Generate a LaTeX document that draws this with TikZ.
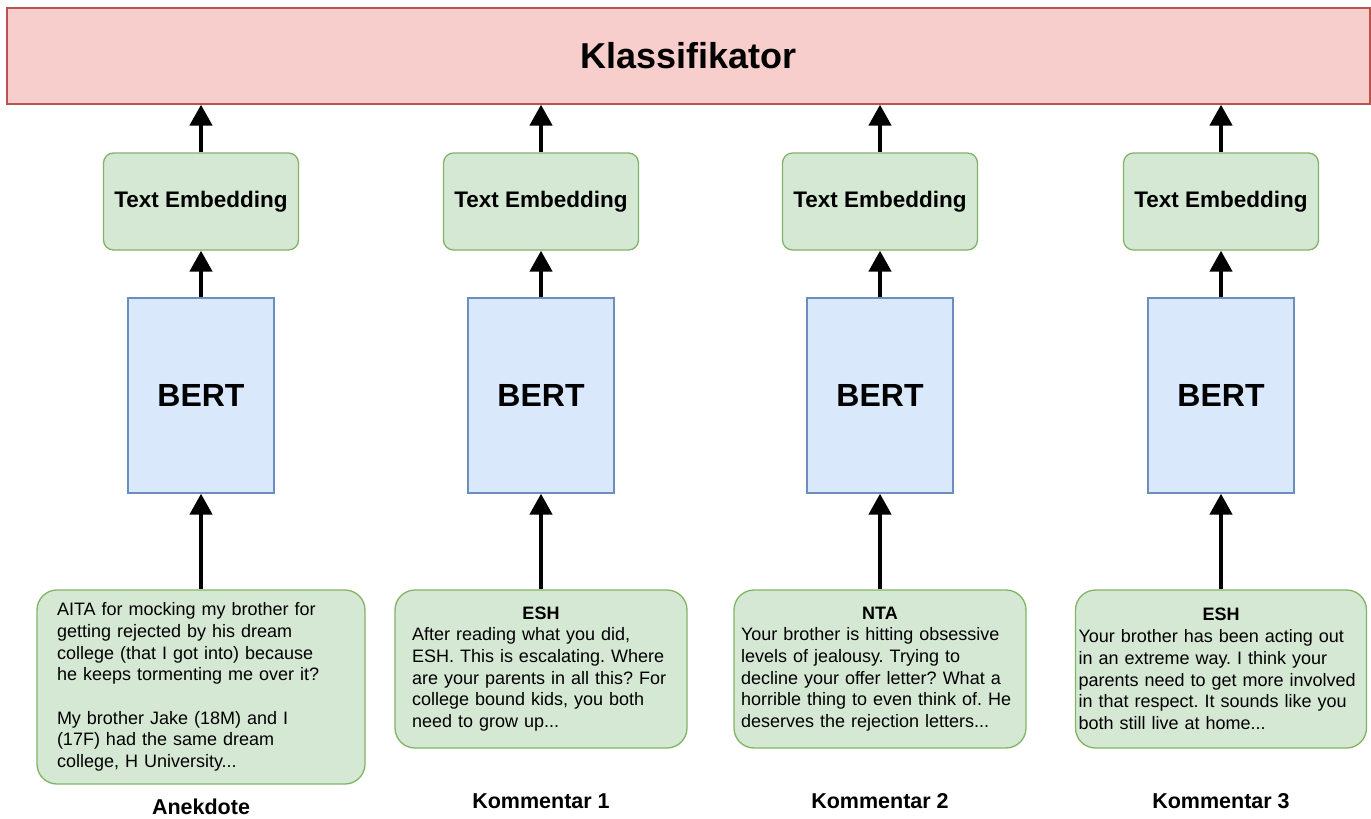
\documentclass[tikz,border=0pt]{standalone}
\usepackage{fontspec}
\setmainfont{Liberation Sans}
\usepackage{xcolor}
\usepackage{tikz}
\usetikzlibrary{arrows.meta, positioning}
\frenchspacing
\hyphenpenalty=10000
\definecolor{klassfill}{HTML}{F8CECC}
\definecolor{klassline}{HTML}{B85450}
\definecolor{gfill}{HTML}{D5E8D4}
\definecolor{gline}{HTML}{82B366}
\definecolor{bfill}{HTML}{DAE8FC}
\definecolor{bline}{HTML}{6C8EBF}
\tikzset{
  klass/.style={draw=klassline, fill=klassfill, line width=1.3pt, minimum width=1363pt, minimum height=96pt, font=\fontsize{36}{43}\selectfont\bfseries},
  emb/.style={draw=gline, fill=gfill, rounded corners=10pt, line width=1.3pt, minimum width=195pt, minimum height=97pt, font=\fontsize{22.5}{27}\selectfont\bfseries},
  bert/.style={draw=bline, fill=bfill, line width=1.3pt, minimum width=146pt, minimum height=195pt, font=\fontsize{32}{38}\selectfont\bfseries},
  post/.style={draw=gline, fill=gfill, rounded corners=20pt, line width=1.3pt, align=left, font=\fontsize{18}{21.7}\selectfont},
  lbl/.style={font=\fontsize{21.5}{26}\selectfont\bfseries},
  arr/.style={line width=4.5pt, -{Triangle[width=22pt,length=21pt]}}
}

\begin{document}
\begin{tikzpicture}[x=1pt, y=-1pt]
\useasboundingbox (0,0) rectangle (1371,819);
\node[klass] (klass) at (688.5, 56) {Klassifikator};

\node[emb] (e1) at (201, 201.5) {Text Embedding};
\node[emb] (e2) at (541, 201.5) {Text Embedding};
\node[emb] (e3) at (880, 201.5) {Text Embedding};
\node[emb] (e4) at (1221, 201.5) {Text Embedding};

\node[bert] (b1) at (201, 395.5) {BERT};
\node[bert] (b2) at (541, 395.5) {BERT};
\node[bert] (b3) at (880, 395.5) {BERT};
\node[bert] (b4) at (1221, 395.5) {BERT};

\node[post, text width=288pt, inner xsep=20pt, minimum height=194pt] (p1) at (201, 687)
  {AITA for mocking my brother for\\ getting rejected by his dream\\ college (that I got into) because\\ he keeps tormenting me over it?\\[21.7pt] My brother Jake (18M) and I\\ (17F) had the same dream\\ college, H University...};
\node[post, text width=258pt, inner xsep=17pt, minimum height=158pt] (p2) at (541, 669)
  {\makebox[\linewidth]{\textbf{ESH}}\\ After reading what you did,\\ ESH. This is escalating. Where\\ are your parents in all this? For\\ college bound kids, you both\\ need to grow up...};
\node[post, text width=278pt, inner xsep=7pt, minimum height=158pt] (p3) at (880, 669)
  {\makebox[\linewidth]{\textbf{NTA}}\\ Your brother is hitting obsessive\\ levels of jealousy. Trying to\\ decline your offer letter? What a\\ horrible thing to even think of. He\\ deserves the rejection letters...};
\node[post, text width=285pt, inner xsep=3pt, minimum height=158pt] (p4) at (1221, 669)
  {\makebox[\linewidth]{\textbf{ESH}}\\ Your brother has been acting out\\ in an extreme way. I think your\\ parents need to get more involved\\ in that respect. It sounds like you\\ both still live at home...};

\node[lbl] (l1) at (201, 807) {Anekdote};
\node[lbl] (l2) at (541, 801) {Kommentar 1};
\node[lbl] (l3) at (880, 801) {Kommentar 2};
\node[lbl] (l4) at (1221, 801) {Kommentar 3};

\draw[arr] (p1) -- (b1);
\draw[arr] (p2) -- (b2);
\draw[arr] (p3) -- (b3);
\draw[arr] (p4) -- (b4);
\draw[arr] (b1) -- (e1);
\draw[arr] (b2) -- (e2);
\draw[arr] (b3) -- (e3);
\draw[arr] (b4) -- (e4);
\draw[arr] (e1) -- (e1 |- klass.south);
\draw[arr] (e2) -- (e2 |- klass.south);
\draw[arr] (e3) -- (e3 |- klass.south);
\draw[arr] (e4) -- (e4 |- klass.south);
\end{tikzpicture}
\end{document}
